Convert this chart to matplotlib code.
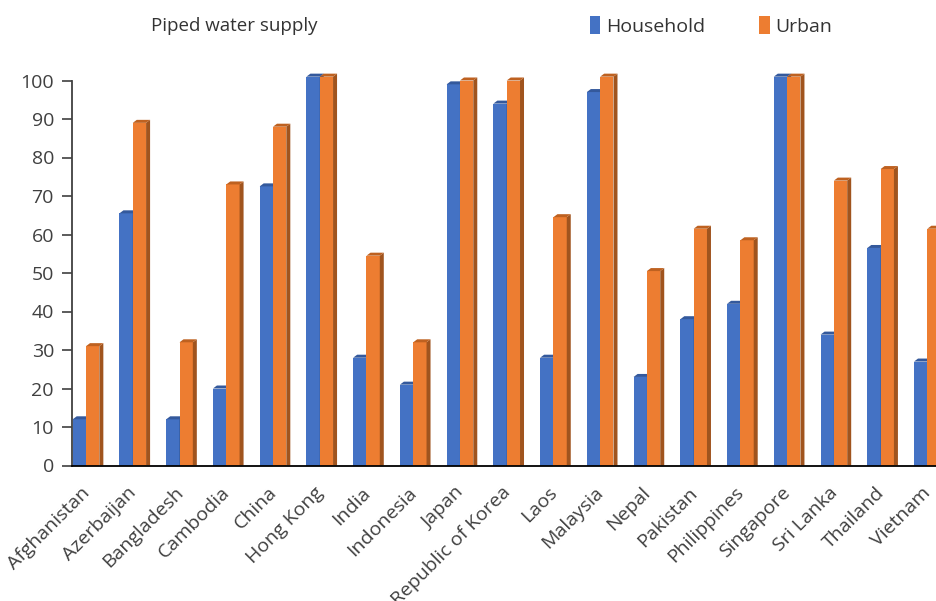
import matplotlib
matplotlib.use("Agg")
import matplotlib.pyplot as plt
from matplotlib.patches import Polygon, Patch

plt.rcParams['font.family'] = ['Open Sans', 'DejaVu Sans']

countries = ["Afghanistan", "Azerbaijan", "Bangladesh", "Cambodia", "China",
             "Hong Kong", "India", "Indonesia", "Japan", "Republic of Korea",
             "Laos", "Malaysia", "Nepal", "Pakistan", "Philippines",
             "Singapore", "Sri Lanka", "Thailand", "Vietnam"]
household = [12, 65.5, 12, 20, 72.5, 101, 28, 21, 99, 94,
             28, 97, 23, 38, 42, 101, 34, 56.5, 27]
urban = [31, 89, 32, 73, 88, 101, 54.5, 32, 100, 100,
         64.5, 101, 50.5, 61.5, 58.5, 101, 74, 77, 61.5]

series_names = ["Household", "Urban"]
front_colors = ["#4472C4", "#ED7D31"]
side_colors = ["#2F528F", "#A0541E"]
top_colors = ["#34599C", "#BE6120"]

W, H = 936, 601
fig = plt.figure(figsize=(W / 100, H / 100), dpi=100)
ax_left = 72 / W
ax_bottom = (H - 465.5) / H
ymax = 104
px_per_unit = 3.85
ax_h = ymax * px_per_unit / H
ax = fig.add_axes([ax_left, ax_bottom, 1 - ax_left, ax_h])

bw = 0.285
x_left, x_right = -0.30, 18.185
px_per_cat = (W - 72) / (x_right - x_left)
dx = 4.0 / px_per_cat
dy = 3.0 / px_per_unit

for si, vals in enumerate([household, urban]):
    for i, v in enumerate(vals):
        xl = i - bw + si * bw
        xr = xl + bw
        z = 2 + i * 0.01 + si * 0.001
        ax.bar(xl, v, width=bw, align='edge', color=front_colors[si],
               edgecolor='none', zorder=z, linewidth=0)
        ax.add_patch(Polygon([(xr, 0), (xr, v), (xr + dx, v + dy), (xr + dx, 0)],
                             closed=True, facecolor=side_colors[si],
                             edgecolor='none', zorder=z))
        ax.add_patch(Polygon([(xl, v), (xr, v), (xr + dx, v + dy), (xl + dx, v + dy)],
                             closed=True, facecolor=top_colors[si],
                             edgecolor='none', zorder=z))

ax.set_xlim(x_left, x_right)
ax.set_ylim(0, ymax)
ax.set_yticks(range(0, 101, 10))
ax.spines['left'].set_bounds(0, 100)
for s in ['top', 'right']:
    ax.spines[s].set_visible(False)
ax.spines['left'].set_color('#404040')
ax.spines['left'].set_linewidth(1.3)
ax.spines['bottom'].set_color('#000000')
ax.spines['bottom'].set_linewidth(1.3)
ax.spines['bottom'].set_zorder(10)
ax.tick_params(axis='y', direction='out', length=7, width=1.2, color='#404040',
               labelsize=14, labelcolor='#404040', pad=6)
ax.set_xticks([i - 0.12 for i in range(len(countries))])
ax.set_xticklabels(countries, rotation=45, ha='right', rotation_mode='anchor',
                   fontsize=14, color='#404040')
ax.tick_params(axis='x', length=0, pad=13)

fig.text(151 / W, 1 - 26 / H, "Piped water supply", fontsize=13.5,
         color='#333333', va='center', ha='left')

handles = [Patch(facecolor=front_colors[k], edgecolor='none', label=series_names[k])
           for k in range(2)]
fig.legend(handles=handles, loc='center left', bbox_to_anchor=(580 / W, 1 - 26 / H),
           ncol=2, frameon=False, fontsize=14, handlelength=0.55, handleheight=1.0,
           handletextpad=0.3, columnspacing=2.75, borderpad=0, labelcolor='#333333')

fig.savefig("out.png", dpi=100)
